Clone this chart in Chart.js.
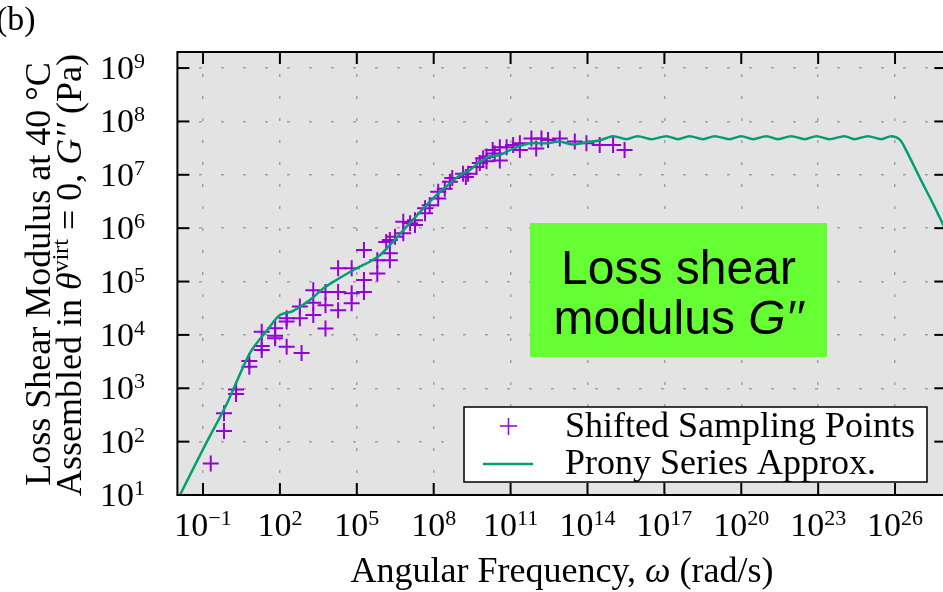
<!DOCTYPE html>
<html>
<head>
<meta charset="utf-8">
<title>Loss shear modulus G''</title>
<script src="https://cdn.jsdelivr.net/npm/chart.js@4.4.0/dist/chart.umd.min.js"></script>
<style>
  html, body { margin: 0; padding: 0; background: #fff; overflow: hidden; }
  #wrap { position: absolute; left: 0; top: 0; width: 960px; height: 592px; }
</style>
</head>
<body>
<div id="wrap"><canvas id="chart" width="960" height="592"></canvas></div>
<script>
// ─── Data ───────────────────────────────────────────────────────────
const xTickExps = [-1, 2, 5, 8, 11, 14, 17, 20, 23, 26];
const yTickExps = [1, 2, 3, 4, 5, 6, 7, 8, 9];

// shifted sampling points: angular frequency (rad/s) / loss modulus (Pa)
const sampleFreq = [
  0.2, 0.66, 0.66, 1.95, 1.95, 6.4, 6.4, 19.5, 19.5, 19.5,
  65, 65, 65, 183, 183, 183, 600, 600, 700, 2000,
  2000, 2000, 6000, 6000, 6000, 18700, 18700, 18700, 63000, 63000,
  63000, 1.9e5, 1.9e5, 1.9e5, 6.3e5, 6.3e5, 1.95e6, 1.95e6, 1.95e6, 6.5e6,
  6.5e6, 1.86e7, 1.86e7, 4.6e7, 1.5e8, 1.5e8, 4.3e8, 5.3e8, 1.4e9, 1.8e9,
  4.7e9, 6.3e9, 1.15e10, 2.4e10, 8.5e9, 2.0e10, 3.8e10, 1.26e11, 2.3e11, 6.5e11,
  1.0e12, 1.6e12, 2.9e12, 8.3e12, 3.2e13, 9.1e13, 3.0e14, 1.0e15, 2.8e15, 7e10,
  3.8e10, 2.3e11, 1.4e6, 3.1e6, 1.2e7, 4.6e7, 7e7, 2.7e8, 2.2e9, 1.15e10,
];
const sampleModulus = [
  39, 340, 158, 950, 780, 3240, 2520, 11500, 5200, 6200,
  13300, 9600, 8700, 17800, 20600, 6000, 34000, 20500, 4600, 69000,
  23500, 40000, 64000, 36000, 13200, 178000, 64000, 29000, 178000, 60000,
  39000, 3.9e5, 1.07e5, 6.4e4, 2.5e5, 1.41e5, 3.4e5, 2.5e5, 6.0e5, 8.0e5,
  1.32e6, 1.15e6, 1.4e6, 2.35e6, 3.6e6, 4.8e6, 7.4e6, 8.7e6, 1.05e7, 9.1e6,
  1.4e7, 1.66e7, 2.2e7, 2.5e7, 2.05e7, 2.9e7, 3.3e7, 3.6e7, 3.9e7, 4.8e7,
  3.1e7, 4.8e7, 4.5e7, 4.8e7, 4.2e7, 3.9e7, 3.6e7, 3.6e7, 2.9e7, 3.3e7,
  1.86e7, 2.9e7, 5.5e5, 6.9e5, 1.23e6, 1.9e6, 2.7e6, 5.5e6, 1.05e7, 1.8e7,
];

// Prony series approximation
const pronyFreq = [
  0.0126, 0.1, 0.87, 6.8, 32, 100, 320, 1480, 4900, 16000,
  54000, 1.3e5, 3.2e5, 7.9e5, 1.95e6, 6.5e6, 2.9e7, 1.3e8, 4.3e8, 1.05e9,
  2.6e9, 6.3e9, 1.55e10, 3.8e10, 1.26e11, 5.6e11, 2.5e12, 8.3e12, 2.75e13, 1.23e14,
  3.0e14, 9.8e14, 3.3e15, 9.1e15, 3.1e16, 1.2e17, 3.4e17, 9.5e17, 3.2e18, 9.1e18,
  3.5e19, 1.0e20, 2.9e20, 9.5e20, 2.7e21, 8.9e21, 3.0e22, 8.5e22, 2.75e23, 1.07e24,
  2.6e24, 8.7e24, 2.9e25, 7.1e25, 1.5e26, 2.7e26, 8.9e26, 3.0e27, 7.1e27, 2e28,
];
const pronyModulus = [
  10, 72, 525, 4600, 12300, 23500, 28000, 45000, 74000, 107000,
  151000, 1.9e5, 2.35e5, 3.1e5, 4.8e5, 9.1e5, 2.0e6, 4.2e6, 6.9e6, 9.8e6,
  1.23e7, 1.74e7, 2.2e7, 2.35e7, 3.1e7, 3.9e7, 3.9e7, 4.2e7, 3.7e7, 4.2e7,
  4.4e7, 5.3e7, 4.65e7, 5.3e7, 4.65e7, 5.3e7, 4.65e7, 5.3e7, 4.65e7, 5.3e7,
  4.65e7, 5.3e7, 4.65e7, 5.3e7, 4.65e7, 5.3e7, 4.65e7, 5.3e7, 4.65e7, 5.3e7,
  4.65e7, 5.3e7, 4.65e7, 5.3e7, 4.6e7, 2.9e7, 9.1e6, 2.9e6, 1.23e6, 4e5,
];

// ─── Styling ────────────────────────────────────────────────────────
const SERIF = '"Liberation Serif", "Times New Roman", serif';
const SANS = '"Liberation Sans", Arial, sans-serif';
const PURPLE = '#9400d3';
const GREEN = '#009e73';
const TICK = 12;

const pairs = (xs, ys) => xs.map((x, i) => ({ x, y: ys[i] }));

// ─── Text helpers ───────────────────────────────────────────────────
function drawRich(ctx, parts, x, y, align) {
    let total = 0;
    parts.forEach(p => { ctx.font = p.font; p.w = ctx.measureText(p.text).width; total += p.w; });
    let cx = align === 'center' ? x - total / 2 : align === 'right' ? x - total : x;
    ctx.textAlign = 'left';
    ctx.textBaseline = 'alphabetic';
    parts.forEach(p => {
        ctx.font = p.font;
        ctx.fillText(p.text, cx, y + (p.dy || 0));
        cx += p.w;
    });
}

function powParts(exp) {
    return [
        { text: '10', font: `34px ${SERIF}` },
        { text: String(exp).replace('-', '\u2212'), font: `22px ${SERIF}`, dy: -11 },
    ];
}

function line(ctx, x1, y1, x2, y2) {
    ctx.beginPath();
    ctx.moveTo(x1, y1);
    ctx.lineTo(x2, y2);
    ctx.stroke();
}

// ─── Decorations plugin ─────────────────────────────────────────────
const decorations = {
    id: 'decorations',
    beforeDraw(chart) {
        const { ctx, chartArea: a } = chart;
        ctx.save();
        ctx.fillStyle = '#e3e3e3';
        ctx.fillRect(a.left, a.top, a.right - a.left, a.bottom - a.top);
        ctx.restore();
    },
    afterDraw(chart) {
        const { ctx, chartArea: a, scales } = chart;
        const sx = scales.x, sy = scales.y;
        ctx.save();

        // annotation box
        ctx.fillStyle = '#66ff33';
        ctx.fillRect(530, 223, 297, 134);
        ctx.fillStyle = '#000';
        drawRich(ctx, [{ text: 'Loss shear', font: `48px ${SANS}` }], 678.5, 284, 'center');
        drawRich(ctx, [
            { text: 'modulus ', font: `48px ${SANS}` },
            { text: 'G\u2032\u2032', font: `italic 48px ${SANS}` },
        ], 678.5, 334, 'center');

        // legend
        ctx.fillStyle = '#fff';
        ctx.fillRect(464, 407, 463, 75);
        ctx.strokeStyle = '#000';
        ctx.lineWidth = 1.5;
        ctx.strokeRect(464, 407, 463, 75);
        ctx.strokeStyle = PURPLE;
        line(ctx, 500, 426, 517, 426);
        line(ctx, 508.5, 418, 508.5, 435);
        ctx.strokeStyle = GREEN;
        ctx.lineWidth = 2.5;
        line(ctx, 483, 464, 533, 464);
        ctx.fillStyle = '#000';
        drawRich(ctx, [{ text: 'Shifted Sampling Points', font: `36px ${SERIF}` }], 565, 437, 'left');
        drawRich(ctx, [{ text: 'Prony Series Approx.', font: `36px ${SERIF}` }], 565, 474, 'left');

        // frame and inward ticks
        ctx.strokeStyle = '#000';
        ctx.lineWidth = 2;
        ctx.strokeRect(a.left, a.top, a.right - a.left, a.bottom - a.top);
        xTickExps.forEach(e => {
            const px = sx.getPixelForValue(Math.pow(10, e));
            line(ctx, px, a.bottom, px, a.bottom - TICK);
            line(ctx, px, a.top, px, a.top + TICK);
        });
        yTickExps.forEach(e => {
            const py = sy.getPixelForValue(Math.pow(10, e));
            line(ctx, a.left, py, a.left + TICK, py);
            line(ctx, a.right, py, a.right - TICK, py);
        });

        // tick labels
        ctx.fillStyle = '#000';
        xTickExps.forEach(e => {
            drawRich(ctx, powParts(e), sx.getPixelForValue(Math.pow(10, e)), 536, 'center');
        });
        yTickExps.forEach(e => {
            drawRich(ctx, powParts(e), 145, sy.getPixelForValue(Math.pow(10, e)) + 11, 'right');
        });

        // axis titles
        drawRich(ctx, [
            { text: 'Angular Frequency, ', font: `36px ${SERIF}` },
            { text: '\u03c9', font: `italic 36px ${SERIF}` },
            { text: ' (rad/s)', font: `36px ${SERIF}` },
        ], 562, 582, 'center');

        ctx.save();
        ctx.translate(50, 274);
        ctx.rotate(-Math.PI / 2);
        drawRich(ctx, [{ text: 'Loss Shear Modulus at 40 \u00b0C', font: `36px ${SERIF}` }], 0, 0, 'center');
        ctx.restore();

        ctx.save();
        ctx.translate(81, 275);
        ctx.rotate(-Math.PI / 2);
        drawRich(ctx, [
            { text: 'Assembled in ', font: `36px ${SERIF}` },
            { text: '\u03b8', font: `italic 36px ${SERIF}` },
            { text: 'virt', font: `24px ${SERIF}`, dy: -13 },
            { text: ' = 0, ', font: `36px ${SERIF}` },
            { text: 'G\u2032\u2032', font: `italic 36px ${SERIF}` },
            { text: ' (Pa)', font: `36px ${SERIF}` },
        ], 0, 0, 'center');
        ctx.restore();

        drawRich(ctx, [{ text: '(b)', font: `34px ${SERIF}` }], -4, 30, 'left');
        ctx.restore();
    },
};

// ─── Chart ──────────────────────────────────────────────────────────
const gridOpts = { color: 'rgba(150,150,150,0.85)', lineWidth: 1.5, drawTicks: false };
const borderOpts = { display: false, dash: [3, 19] };

new Chart(document.getElementById('chart'), {
    type: 'scatter',
    data: {
        datasets: [
            {
                label: 'Prony Series Approx.',
                data: pairs(pronyFreq, pronyModulus),
                showLine: true,
                borderColor: GREEN,
                borderWidth: 2.5,
                pointRadius: 0,
                tension: 0.3,
                order: 0,
            },
            {
                label: 'Shifted Sampling Points',
                data: pairs(sampleFreq, sampleModulus),
                pointStyle: 'cross',
                pointRadius: 8,
                borderWidth: 2,
                borderColor: PURPLE,
                backgroundColor: PURPLE,
                order: 1,
            },
        ],
    },
    options: {
        responsive: false,
        animation: false,
        layout: { padding: { top: 52, right: 13.7, left: 0, bottom: 0 } },
        plugins: { legend: { display: false }, tooltip: { enabled: false } },
        scales: {
            x: {
                type: 'logarithmic',
                min: 1e-2,
                max: 1e28,
                ticks: { display: false },
                grid: gridOpts,
                border: borderOpts,
                afterBuildTicks: s => { s.ticks = xTickExps.map(e => ({ value: Math.pow(10, e) })); },
                afterFit: s => { s.height = 97; },
            },
            y: {
                type: 'logarithmic',
                min: 10,
                max: 2e9,
                ticks: { display: false },
                grid: gridOpts,
                border: borderOpts,
                afterBuildTicks: s => { s.ticks = yTickExps.map(e => ({ value: Math.pow(10, e) })); },
                afterFit: s => { s.width = 177.4; },
            },
        },
    },
    plugins: [decorations],
});
</script>
</body>
</html>
